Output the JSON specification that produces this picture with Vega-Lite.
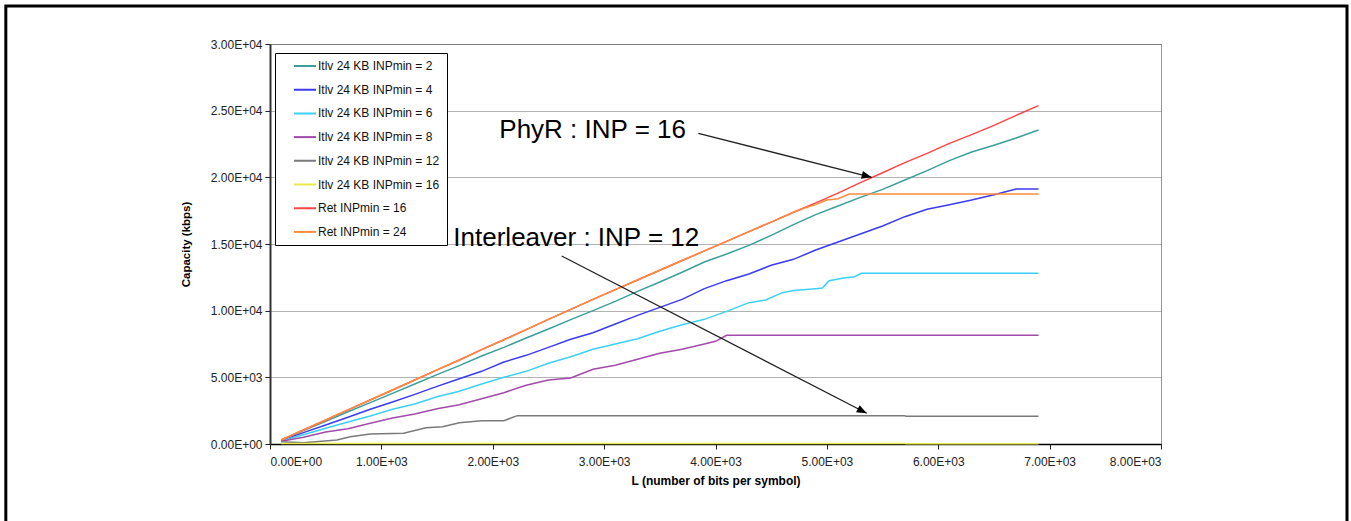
{
  "$schema": "https://vega.github.io/schema/vega-lite/v6.json",
  "width": 891,
  "height": 400,
  "autosize": {"type": "none"},
  "padding": {"left": 270, "top": 44, "right": 190, "bottom": 77},
  "background": "white",
  "config": {
    "view": {"stroke": "#9a9a9a", "strokeWidth": 1},
    "font": "Liberation Sans",
    "axis": {
      "labelFont": "Liberation Sans", "labelFontSize": 12, "labelColor": "#222",
      "titleFont": "Liberation Sans", "titleFontWeight": "bold", "titleColor": "#000",
      "domainColor": "#222", "tickColor": "#222", "tickSize": 5, "grid": false
    },
    "legend": {
      "orient": "none", "legendX": 5, "legendY": 9, "direction": "vertical",
      "fillColor": "white", "strokeColor": "black", "strokeWidth": 1, "padding": 7,
      "symbolType": "stroke", "symbolSize": 484, "symbolStrokeWidth": 2,
      "labelFont": "Liberation Sans", "labelFontSize": 12, "labelColor": "#111",
      "labelOffset": 1, "clipHeight": 12, "rowPadding": 11.7, "symbolOffset": 11
    }
  },
  "datasets": {
    "curves": [
      {"series": "Itlv 24 KB INPmin = 2", "L": 100, "C": 290},
      {"series": "Itlv 24 KB INPmin = 2", "L": 300, "C": 1000},
      {"series": "Itlv 24 KB INPmin = 2", "L": 500, "C": 1700},
      {"series": "Itlv 24 KB INPmin = 2", "L": 700, "C": 2420},
      {"series": "Itlv 24 KB INPmin = 2", "L": 900, "C": 3100},
      {"series": "Itlv 24 KB INPmin = 2", "L": 1100, "C": 3800},
      {"series": "Itlv 24 KB INPmin = 2", "L": 1300, "C": 4500},
      {"series": "Itlv 24 KB INPmin = 2", "L": 1500, "C": 5200},
      {"series": "Itlv 24 KB INPmin = 2", "L": 1700, "C": 5880},
      {"series": "Itlv 24 KB INPmin = 2", "L": 1900, "C": 6600},
      {"series": "Itlv 24 KB INPmin = 2", "L": 2100, "C": 7250},
      {"series": "Itlv 24 KB INPmin = 2", "L": 2300, "C": 7950},
      {"series": "Itlv 24 KB INPmin = 2", "L": 2500, "C": 8620},
      {"series": "Itlv 24 KB INPmin = 2", "L": 2700, "C": 9330},
      {"series": "Itlv 24 KB INPmin = 2", "L": 2900, "C": 10000},
      {"series": "Itlv 24 KB INPmin = 2", "L": 3100, "C": 10700},
      {"series": "Itlv 24 KB INPmin = 2", "L": 3300, "C": 11450},
      {"series": "Itlv 24 KB INPmin = 2", "L": 3500, "C": 12150},
      {"series": "Itlv 24 KB INPmin = 2", "L": 3700, "C": 12880},
      {"series": "Itlv 24 KB INPmin = 2", "L": 3900, "C": 13650},
      {"series": "Itlv 24 KB INPmin = 2", "L": 4100, "C": 14250},
      {"series": "Itlv 24 KB INPmin = 2", "L": 4300, "C": 14900},
      {"series": "Itlv 24 KB INPmin = 2", "L": 4500, "C": 15650},
      {"series": "Itlv 24 KB INPmin = 2", "L": 4700, "C": 16450},
      {"series": "Itlv 24 KB INPmin = 2", "L": 4900, "C": 17200},
      {"series": "Itlv 24 KB INPmin = 2", "L": 5100, "C": 17850},
      {"series": "Itlv 24 KB INPmin = 2", "L": 5300, "C": 18500},
      {"series": "Itlv 24 KB INPmin = 2", "L": 5500, "C": 19100},
      {"series": "Itlv 24 KB INPmin = 2", "L": 5700, "C": 19800},
      {"series": "Itlv 24 KB INPmin = 2", "L": 5900, "C": 20500},
      {"series": "Itlv 24 KB INPmin = 2", "L": 6100, "C": 21250},
      {"series": "Itlv 24 KB INPmin = 2", "L": 6300, "C": 21900},
      {"series": "Itlv 24 KB INPmin = 2", "L": 6500, "C": 22400},
      {"series": "Itlv 24 KB INPmin = 2", "L": 6700, "C": 22950},
      {"series": "Itlv 24 KB INPmin = 2", "L": 6900, "C": 23550},

      {"series": "Itlv 24 KB INPmin = 4", "L": 100, "C": 260},
      {"series": "Itlv 24 KB INPmin = 4", "L": 300, "C": 850},
      {"series": "Itlv 24 KB INPmin = 4", "L": 500, "C": 1420},
      {"series": "Itlv 24 KB INPmin = 4", "L": 700, "C": 2000},
      {"series": "Itlv 24 KB INPmin = 4", "L": 900, "C": 2600},
      {"series": "Itlv 24 KB INPmin = 4", "L": 1100, "C": 3150},
      {"series": "Itlv 24 KB INPmin = 4", "L": 1300, "C": 3720},
      {"series": "Itlv 24 KB INPmin = 4", "L": 1500, "C": 4320},
      {"series": "Itlv 24 KB INPmin = 4", "L": 1700, "C": 4900},
      {"series": "Itlv 24 KB INPmin = 4", "L": 1900, "C": 5450},
      {"series": "Itlv 24 KB INPmin = 4", "L": 2100, "C": 6150},
      {"series": "Itlv 24 KB INPmin = 4", "L": 2300, "C": 6650},
      {"series": "Itlv 24 KB INPmin = 4", "L": 2500, "C": 7250},
      {"series": "Itlv 24 KB INPmin = 4", "L": 2700, "C": 7850},
      {"series": "Itlv 24 KB INPmin = 4", "L": 2900, "C": 8350},
      {"series": "Itlv 24 KB INPmin = 4", "L": 3100, "C": 9000},
      {"series": "Itlv 24 KB INPmin = 4", "L": 3300, "C": 9650},
      {"series": "Itlv 24 KB INPmin = 4", "L": 3500, "C": 10250},
      {"series": "Itlv 24 KB INPmin = 4", "L": 3700, "C": 10850},
      {"series": "Itlv 24 KB INPmin = 4", "L": 3900, "C": 11650},
      {"series": "Itlv 24 KB INPmin = 4", "L": 4100, "C": 12250},
      {"series": "Itlv 24 KB INPmin = 4", "L": 4300, "C": 12750},
      {"series": "Itlv 24 KB INPmin = 4", "L": 4500, "C": 13400},
      {"series": "Itlv 24 KB INPmin = 4", "L": 4700, "C": 13850},
      {"series": "Itlv 24 KB INPmin = 4", "L": 4900, "C": 14550},
      {"series": "Itlv 24 KB INPmin = 4", "L": 5100, "C": 15150},
      {"series": "Itlv 24 KB INPmin = 4", "L": 5300, "C": 15750},
      {"series": "Itlv 24 KB INPmin = 4", "L": 5500, "C": 16350},
      {"series": "Itlv 24 KB INPmin = 4", "L": 5700, "C": 17050},
      {"series": "Itlv 24 KB INPmin = 4", "L": 5900, "C": 17600},
      {"series": "Itlv 24 KB INPmin = 4", "L": 6100, "C": 17950},
      {"series": "Itlv 24 KB INPmin = 4", "L": 6300, "C": 18300},
      {"series": "Itlv 24 KB INPmin = 4", "L": 6500, "C": 18700},
      {"series": "Itlv 24 KB INPmin = 4", "L": 6700, "C": 19120},
      {"series": "Itlv 24 KB INPmin = 4", "L": 6900, "C": 19120},

      {"series": "Itlv 24 KB INPmin = 6", "L": 100, "C": 240},
      {"series": "Itlv 24 KB INPmin = 6", "L": 300, "C": 700},
      {"series": "Itlv 24 KB INPmin = 6", "L": 500, "C": 1180},
      {"series": "Itlv 24 KB INPmin = 6", "L": 700, "C": 1650},
      {"series": "Itlv 24 KB INPmin = 6", "L": 900, "C": 2100},
      {"series": "Itlv 24 KB INPmin = 6", "L": 1100, "C": 2600},
      {"series": "Itlv 24 KB INPmin = 6", "L": 1300, "C": 3000},
      {"series": "Itlv 24 KB INPmin = 6", "L": 1500, "C": 3550},
      {"series": "Itlv 24 KB INPmin = 6", "L": 1700, "C": 3950},
      {"series": "Itlv 24 KB INPmin = 6", "L": 1900, "C": 4500},
      {"series": "Itlv 24 KB INPmin = 6", "L": 2100, "C": 5000},
      {"series": "Itlv 24 KB INPmin = 6", "L": 2300, "C": 5450},
      {"series": "Itlv 24 KB INPmin = 6", "L": 2500, "C": 6050},
      {"series": "Itlv 24 KB INPmin = 6", "L": 2700, "C": 6550},
      {"series": "Itlv 24 KB INPmin = 6", "L": 2900, "C": 7100},
      {"series": "Itlv 24 KB INPmin = 6", "L": 3100, "C": 7500},
      {"series": "Itlv 24 KB INPmin = 6", "L": 3300, "C": 7900},
      {"series": "Itlv 24 KB INPmin = 6", "L": 3500, "C": 8450},
      {"series": "Itlv 24 KB INPmin = 6", "L": 3700, "C": 8950},
      {"series": "Itlv 24 KB INPmin = 6", "L": 3900, "C": 9350},
      {"series": "Itlv 24 KB INPmin = 6", "L": 4100, "C": 9950},
      {"series": "Itlv 24 KB INPmin = 6", "L": 4300, "C": 10600},
      {"series": "Itlv 24 KB INPmin = 6", "L": 4450, "C": 10800},
      {"series": "Itlv 24 KB INPmin = 6", "L": 4600, "C": 11350},
      {"series": "Itlv 24 KB INPmin = 6", "L": 4700, "C": 11520},
      {"series": "Itlv 24 KB INPmin = 6", "L": 4900, "C": 11650},
      {"series": "Itlv 24 KB INPmin = 6", "L": 4960, "C": 11700},
      {"series": "Itlv 24 KB INPmin = 6", "L": 5020, "C": 12250},
      {"series": "Itlv 24 KB INPmin = 6", "L": 5150, "C": 12450},
      {"series": "Itlv 24 KB INPmin = 6", "L": 5250, "C": 12550},
      {"series": "Itlv 24 KB INPmin = 6", "L": 5310, "C": 12800},
      {"series": "Itlv 24 KB INPmin = 6", "L": 6900, "C": 12800},

      {"series": "Itlv 24 KB INPmin = 8", "L": 100, "C": 200},
      {"series": "Itlv 24 KB INPmin = 8", "L": 300, "C": 500},
      {"series": "Itlv 24 KB INPmin = 8", "L": 500, "C": 900},
      {"series": "Itlv 24 KB INPmin = 8", "L": 700, "C": 1150},
      {"series": "Itlv 24 KB INPmin = 8", "L": 900, "C": 1550},
      {"series": "Itlv 24 KB INPmin = 8", "L": 1100, "C": 1950},
      {"series": "Itlv 24 KB INPmin = 8", "L": 1300, "C": 2250},
      {"series": "Itlv 24 KB INPmin = 8", "L": 1500, "C": 2650},
      {"series": "Itlv 24 KB INPmin = 8", "L": 1700, "C": 2950},
      {"series": "Itlv 24 KB INPmin = 8", "L": 1900, "C": 3400},
      {"series": "Itlv 24 KB INPmin = 8", "L": 2100, "C": 3850},
      {"series": "Itlv 24 KB INPmin = 8", "L": 2300, "C": 4400},
      {"series": "Itlv 24 KB INPmin = 8", "L": 2500, "C": 4800},
      {"series": "Itlv 24 KB INPmin = 8", "L": 2700, "C": 4950},
      {"series": "Itlv 24 KB INPmin = 8", "L": 2900, "C": 5600},
      {"series": "Itlv 24 KB INPmin = 8", "L": 3100, "C": 5900},
      {"series": "Itlv 24 KB INPmin = 8", "L": 3300, "C": 6350},
      {"series": "Itlv 24 KB INPmin = 8", "L": 3500, "C": 6800},
      {"series": "Itlv 24 KB INPmin = 8", "L": 3700, "C": 7100},
      {"series": "Itlv 24 KB INPmin = 8", "L": 3900, "C": 7500},
      {"series": "Itlv 24 KB INPmin = 8", "L": 4000, "C": 7700},
      {"series": "Itlv 24 KB INPmin = 8", "L": 4100, "C": 8150},
      {"series": "Itlv 24 KB INPmin = 8", "L": 6900, "C": 8150},

      {"series": "Itlv 24 KB INPmin = 12", "L": 100, "C": 175},
      {"series": "Itlv 24 KB INPmin = 12", "L": 300, "C": 100},
      {"series": "Itlv 24 KB INPmin = 12", "L": 600, "C": 300},
      {"series": "Itlv 24 KB INPmin = 12", "L": 720, "C": 550},
      {"series": "Itlv 24 KB INPmin = 12", "L": 900, "C": 750},
      {"series": "Itlv 24 KB INPmin = 12", "L": 1200, "C": 800},
      {"series": "Itlv 24 KB INPmin = 12", "L": 1400, "C": 1225},
      {"series": "Itlv 24 KB INPmin = 12", "L": 1550, "C": 1300},
      {"series": "Itlv 24 KB INPmin = 12", "L": 1700, "C": 1600},
      {"series": "Itlv 24 KB INPmin = 12", "L": 1900, "C": 1750},
      {"series": "Itlv 24 KB INPmin = 12", "L": 2100, "C": 1750},
      {"series": "Itlv 24 KB INPmin = 12", "L": 2220, "C": 2125},
      {"series": "Itlv 24 KB INPmin = 12", "L": 5700, "C": 2125},
      {"series": "Itlv 24 KB INPmin = 12", "L": 5710, "C": 2075},
      {"series": "Itlv 24 KB INPmin = 12", "L": 6900, "C": 2075},

      {"series": "Itlv 24 KB INPmin = 16", "L": 100, "C": 30},
      {"series": "Itlv 24 KB INPmin = 16", "L": 5700, "C": 30},
      {"series": "Itlv 24 KB INPmin = 16", "L": 5710, "C": 15},
      {"series": "Itlv 24 KB INPmin = 16", "L": 6900, "C": 15},

      {"series": "Ret INPmin = 16", "L": 100, "C": 300},
      {"series": "Ret INPmin = 16", "L": 300, "C": 1050},
      {"series": "Ret INPmin = 16", "L": 500, "C": 1800},
      {"series": "Ret INPmin = 16", "L": 700, "C": 2560},
      {"series": "Ret INPmin = 16", "L": 900, "C": 3300},
      {"series": "Ret INPmin = 16", "L": 1100, "C": 4050},
      {"series": "Ret INPmin = 16", "L": 1300, "C": 4800},
      {"series": "Ret INPmin = 16", "L": 1500, "C": 5560},
      {"series": "Ret INPmin = 16", "L": 1700, "C": 6300},
      {"series": "Ret INPmin = 16", "L": 1900, "C": 7080},
      {"series": "Ret INPmin = 16", "L": 2100, "C": 7820},
      {"series": "Ret INPmin = 16", "L": 2300, "C": 8580},
      {"series": "Ret INPmin = 16", "L": 2500, "C": 9350},
      {"series": "Ret INPmin = 16", "L": 2700, "C": 10100},
      {"series": "Ret INPmin = 16", "L": 2900, "C": 10850},
      {"series": "Ret INPmin = 16", "L": 3100, "C": 11580},
      {"series": "Ret INPmin = 16", "L": 3300, "C": 12300},
      {"series": "Ret INPmin = 16", "L": 3500, "C": 13030},
      {"series": "Ret INPmin = 16", "L": 3700, "C": 13760},
      {"series": "Ret INPmin = 16", "L": 3900, "C": 14480},
      {"series": "Ret INPmin = 16", "L": 4100, "C": 15200},
      {"series": "Ret INPmin = 16", "L": 4300, "C": 15930},
      {"series": "Ret INPmin = 16", "L": 4500, "C": 16640},
      {"series": "Ret INPmin = 16", "L": 4700, "C": 17380},
      {"series": "Ret INPmin = 16", "L": 4900, "C": 18080},
      {"series": "Ret INPmin = 16", "L": 5100, "C": 18820},
      {"series": "Ret INPmin = 16", "L": 5300, "C": 19600},
      {"series": "Ret INPmin = 16", "L": 5500, "C": 20340},
      {"series": "Ret INPmin = 16", "L": 5700, "C": 21100},
      {"series": "Ret INPmin = 16", "L": 5900, "C": 21800},
      {"series": "Ret INPmin = 16", "L": 6100, "C": 22550},
      {"series": "Ret INPmin = 16", "L": 6300, "C": 23200},
      {"series": "Ret INPmin = 16", "L": 6500, "C": 23900},
      {"series": "Ret INPmin = 16", "L": 6700, "C": 24650},
      {"series": "Ret INPmin = 16", "L": 6900, "C": 25380},

      {"series": "Ret INPmin = 24", "L": 100, "C": 300},
      {"series": "Ret INPmin = 24", "L": 300, "C": 1050},
      {"series": "Ret INPmin = 24", "L": 500, "C": 1800},
      {"series": "Ret INPmin = 24", "L": 700, "C": 2560},
      {"series": "Ret INPmin = 24", "L": 900, "C": 3300},
      {"series": "Ret INPmin = 24", "L": 1100, "C": 4050},
      {"series": "Ret INPmin = 24", "L": 1300, "C": 4800},
      {"series": "Ret INPmin = 24", "L": 1500, "C": 5560},
      {"series": "Ret INPmin = 24", "L": 1700, "C": 6300},
      {"series": "Ret INPmin = 24", "L": 1900, "C": 7080},
      {"series": "Ret INPmin = 24", "L": 2100, "C": 7820},
      {"series": "Ret INPmin = 24", "L": 2300, "C": 8580},
      {"series": "Ret INPmin = 24", "L": 2500, "C": 9350},
      {"series": "Ret INPmin = 24", "L": 2700, "C": 10100},
      {"series": "Ret INPmin = 24", "L": 2900, "C": 10850},
      {"series": "Ret INPmin = 24", "L": 3100, "C": 11580},
      {"series": "Ret INPmin = 24", "L": 3300, "C": 12300},
      {"series": "Ret INPmin = 24", "L": 3500, "C": 13030},
      {"series": "Ret INPmin = 24", "L": 3700, "C": 13760},
      {"series": "Ret INPmin = 24", "L": 3900, "C": 14480},
      {"series": "Ret INPmin = 24", "L": 4100, "C": 15200},
      {"series": "Ret INPmin = 24", "L": 4300, "C": 15930},
      {"series": "Ret INPmin = 24", "L": 4500, "C": 16640},
      {"series": "Ret INPmin = 24", "L": 4700, "C": 17380},
      {"series": "Ret INPmin = 24", "L": 4800, "C": 17700},
      {"series": "Ret INPmin = 24", "L": 4900, "C": 17950},
      {"series": "Ret INPmin = 24", "L": 5000, "C": 18300},
      {"series": "Ret INPmin = 24", "L": 5100, "C": 18400},
      {"series": "Ret INPmin = 24", "L": 5200, "C": 18750},
      {"series": "Ret INPmin = 24", "L": 6900, "C": 18750}
    ],
    "notes": [
      {"text": "PhyR : INP = 16", "L": 2059, "C": 22930},
      {"text": "Interleaver : INP = 12", "L": 1646, "C": 14873}
    ],
    "phyrArrow": [{"L": 3846, "C": 23300, "L2": 5402, "C2": 20003}],
    "itlvArrow": [{"L": 2619, "C": 14100, "L2": 5358, "C2": 2303}]
  },
  "layer": [
    {
      "data": {"values": [{}]},
      "mark": {"type": "rect", "filled": false, "stroke": "black", "strokeWidth": 3, "clip": false},
      "encoding": {
        "x": {"datum": -2372, "type": "quantitative"},
        "x2": {"datum": 9670},
        "y": {"datum": 32850, "type": "quantitative"},
        "y2": {"datum": -6450}
      }
    },
    {
      "data": {"name": "curves"},
      "mark": {"type": "line", "strokeWidth": 1.5},
      "encoding": {
        "x": {
          "field": "L", "type": "quantitative",
          "scale": {"domain": [0, 8000], "nice": false, "zero": false},
          "axis": {
            "title": "L (number of bits per symbol)",
            "values": [0, 1000, 2000, 3000, 4000, 5000, 6000, 7000, 8000],
            "labelExpr": "replace(format(datum.value, '.2e'), 'e+', 'E+0')",
            "labelPadding": 7, "titlePadding": 8, "titleFontSize": 12,
            "domainColor": "#000", "domainWidth": 1.5
          }
        },
        "y": {
          "field": "C", "type": "quantitative",
          "scale": {"domain": [0, 30000], "nice": false},
          "axis": {
            "title": "Capacity (kbps)",
            "values": [0, 5000, 10000, 15000, 20000, 25000, 30000],
            "labelExpr": "replace(format(datum.value, '.2e'), 'e+', 'E+0')",
            "grid": true, "gridColor": "#666666", "gridDash": [1, 1], "gridWidth": 1,
            "labelPadding": 3, "titlePadding": 19, "titleFontSize": 11.5,
            "domainWidth": 2, "domainColor": "#333"
          }
        },
        "color": {
          "field": "series", "type": "nominal",
          "scale": {
            "domain": ["Itlv 24 KB INPmin = 2", "Itlv 24 KB INPmin = 4", "Itlv 24 KB INPmin = 6", "Itlv 24 KB INPmin = 8", "Itlv 24 KB INPmin = 12", "Itlv 24 KB INPmin = 16", "Ret INPmin = 16", "Ret INPmin = 24"],
            "range": ["#3a9f9a", "#3b3bf0", "#3cd0f5", "#a24aab", "#7a7a7a", "#e8e84a", "#ff4545", "#ff8a3d"]
          },
          "legend": {"title": null}
        }
      }
    },
    {
      "data": {"name": "phyrArrow"},
      "mark": {"type": "rule", "color": "#222", "strokeWidth": 1.3},
      "encoding": {
        "x": {"field": "L", "type": "quantitative"},
        "y": {"field": "C", "type": "quantitative"},
        "x2": {"field": "L2"},
        "y2": {"field": "C2"}
      }
    },
    {
      "data": {"name": "phyrArrow"},
      "mark": {"type": "point", "shape": "M0,0L-0.4,1L0.4,1Z", "size": 400, "filled": true, "color": "#000", "opacity": 1, "angle": 104.2},
      "encoding": {
        "x": {"field": "L2", "type": "quantitative"},
        "y": {"field": "C2", "type": "quantitative"}
      }
    },
    {
      "data": {"name": "itlvArrow"},
      "mark": {"type": "rule", "color": "#222", "strokeWidth": 1.3},
      "encoding": {
        "x": {"field": "L", "type": "quantitative"},
        "y": {"field": "C", "type": "quantitative"},
        "x2": {"field": "L2"},
        "y2": {"field": "C2"}
      }
    },
    {
      "data": {"name": "itlvArrow"},
      "mark": {"type": "point", "shape": "M0,0L-0.4,1L0.4,1Z", "size": 400, "filled": true, "color": "#000", "opacity": 1, "angle": 117.3},
      "encoding": {
        "x": {"field": "L2", "type": "quantitative"},
        "y": {"field": "C2", "type": "quantitative"}
      }
    },
    {
      "data": {"name": "notes"},
      "mark": {"type": "text", "align": "left", "baseline": "alphabetic", "font": "Liberation Sans", "fontSize": 26, "color": "#000"},
      "encoding": {
        "x": {"field": "L", "type": "quantitative"},
        "y": {"field": "C", "type": "quantitative"},
        "text": {"field": "text", "type": "nominal"}
      }
    }
  ]
}
